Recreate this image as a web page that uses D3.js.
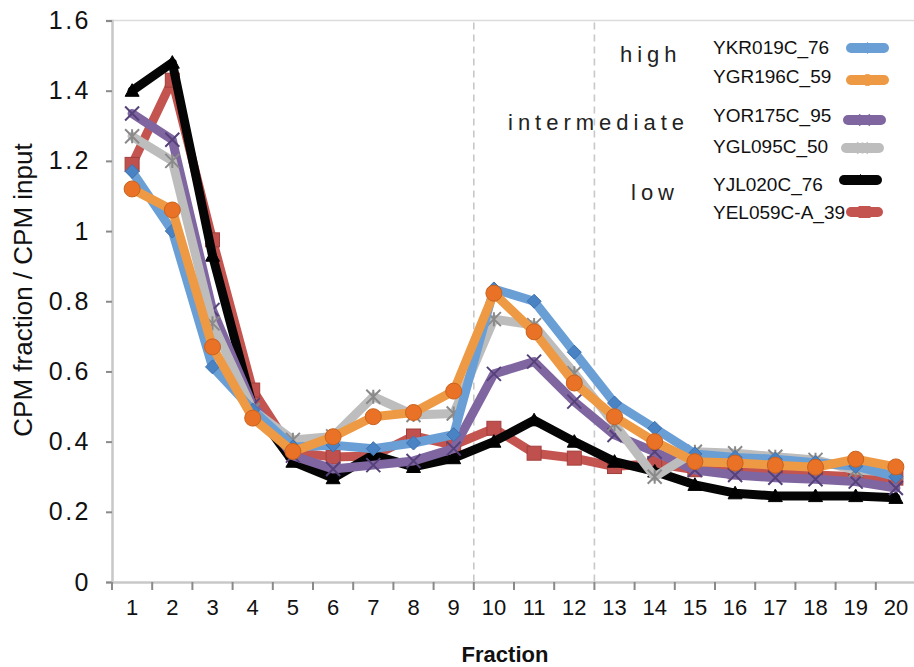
<!DOCTYPE html>
<html>
<head>
<meta charset="utf-8">
<script src="https://cdn.jsdelivr.net/npm/d3@7"></script>
<style>
  html, body { margin: 0; padding: 0; background: #fff; }
  svg { display: block; font-family: "Liberation Sans", Arial, Helvetica, sans-serif; }
</style>
</head>
<body>
<svg id="chart" width="914" height="667"></svg>
<script>
// ---------- data ----------
const fractions = [1,2,3,4,5,6,7,8,9,10,11,12,13,14,15,16,17,18,19,20];
const yTicks = [0, 0.2, 0.4, 0.6, 0.8, 1, 1.2, 1.4, 1.6];

const seriesNames = ["YKR019C_76", "YGR196C_59", "YOR175C_95", "YGL095C_50", "YJL020C_76", "YEL059C-A_39"];
const ykr019c = [1.17, 1.00, 0.613, 0.49, 0.385, 0.39, 0.38, 0.396, 0.42, 0.835, 0.80, 0.655, 0.51, 0.438, 0.365, 0.355, 0.35, 0.34, 0.33, 0.30];
const ygr196c = [1.12, 1.06, 0.67, 0.467, 0.372, 0.414, 0.471, 0.483, 0.544, 0.823, 0.713, 0.567, 0.471, 0.40, 0.343, 0.339, 0.333, 0.327, 0.35, 0.328];
const yor175c = [1.335, 1.26, 0.775, 0.504, 0.36, 0.322, 0.333, 0.345, 0.38, 0.593, 0.628, 0.514, 0.419, 0.371, 0.319, 0.305, 0.297, 0.293, 0.286, 0.268];
const ygl095c = [1.27, 1.20, 0.737, 0.49, 0.405, 0.415, 0.528, 0.476, 0.48, 0.749, 0.732, 0.595, 0.45, 0.30, 0.371, 0.367, 0.357, 0.348, 0.319, 0.313];
const yjl020c = [1.40, 1.48, 0.93, 0.50, 0.343, 0.296, 0.362, 0.328, 0.353, 0.40, 0.461, 0.40, 0.343, 0.315, 0.277, 0.253, 0.245, 0.245, 0.245, 0.24];
const yel059c = [1.19, 1.43, 0.975, 0.547, 0.37, 0.356, 0.359, 0.416, 0.39, 0.438, 0.367, 0.353, 0.329, 0.338, 0.32, 0.314, 0.31, 0.305, 0.30, 0.296];

const groupLabels = ["high", "intermediate", "low"];
const dividerAfter = [9, 12];   // dashed separators between these fractions and the next

// ---------- styles ----------
const styles = {
  "YKR019C_76":   { line: "#6A9FD6", fill: "#4A83C4", stroke: "#3E71AE", shape: "diamond" },
  "YGR196C_59":   { line: "#EE9944", fill: "#EA7226", stroke: "#C8621E", shape: "circle" },
  "YOR175C_95":   { line: "#8066A1", fill: "none",    stroke: "#56427A", shape: "x" },
  "YGL095C_50":   { line: "#BDBDBD", fill: "none",    stroke: "#8A8A8A", shape: "star" },
  "YJL020C_76":   { line: "#050505", fill: "#000000", stroke: "#000000", shape: "triangle" },
  "YEL059C-A_39": { line: "#C4544F", fill: "#C0504D", stroke: "#A0403D", shape: "square" }
};
const values = {
  "YKR019C_76": ykr019c, "YGR196C_59": ygr196c, "YOR175C_95": yor175c,
  "YGL095C_50": ygl095c, "YJL020C_76": yjl020c, "YEL059C-A_39": yel059c
};
// draw order (bottom -> top)
const drawOrder = ["YEL059C-A_39", "YJL020C_76", "YOR175C_95", "YGL095C_50", "YKR019C_76", "YGR196C_59"];

// ---------- layout ----------
const svg = d3.select("#chart");
const plotL = 112, plotR = 916, plotT = 20.5, plotB = 582;

const x = d3.scaleBand().domain(fractions).range([plotL, plotR]).paddingInner(0).paddingOuter(0);
const y = d3.scaleLinear().domain([0, 1.6]).range([plotB, plotT]);
const cx = d => x(d) + x.bandwidth() / 2;

// top border
svg.append("line").attr("x1", plotL).attr("x2", 914).attr("y1", plotT).attr("y2", plotT)
  .attr("stroke", "#dcdcdc").attr("stroke-width", 1.5);

// y axis
const yAxis = svg.append("g").attr("transform", `translate(${plotL},0)`)
  .call(d3.axisLeft(y).tickValues(yTicks).tickSize(6).tickPadding(15)
        .tickFormat(d => d3.format("")(+d.toFixed(1))));
yAxis.select(".domain").attr("stroke", "#c8c8c8").attr("stroke-width", 2.5);
yAxis.selectAll(".tick line").attr("stroke", "#8a8a8a").attr("stroke-width", 2);
yAxis.selectAll(".tick text").attr("font-size", 25).attr("fill", "#111")
  .attr("letter-spacing", 2.5).attr("font-family", "Liberation Sans, Arial, sans-serif");

// x axis
const xAxis = svg.append("g").attr("transform", `translate(0,${plotB})`)
  .call(d3.axisBottom(x).tickSize(0).tickPadding(17));
xAxis.select(".domain").attr("stroke", "#c8c8c8").attr("stroke-width", 2.5);
xAxis.selectAll(".tick text").attr("font-size", 22).attr("fill", "#111")
  .attr("font-family", "Liberation Sans, Arial, sans-serif");
// boundary tick marks
const boundaries = fractions.map(f => x(f));
xAxis.selectAll(".btick").data(boundaries).enter().append("line")
  .attr("x1", d => d).attr("x2", d => d).attr("y1", 0).attr("y2", 8)
  .attr("stroke", "#8a8a8a").attr("stroke-width", 2);

// axis titles
svg.append("text").attr("x", 505).attr("y", 662).attr("text-anchor", "middle")
  .attr("font-size", 22).attr("font-weight", "bold").attr("fill", "#111").text("Fraction");
svg.append("text").attr("transform", "translate(32,290) rotate(-90)").attr("text-anchor", "middle")
  .attr("font-size", 26).attr("fill", "#111").text("CPM fraction / CPM input");

// dashed separators
svg.selectAll(".sep").data(dividerAfter).enter().append("line")
  .attr("x1", d => x(d) + x.bandwidth()).attr("x2", d => x(d) + x.bandwidth())
  .attr("y1", plotT + 2).attr("y2", plotB)
  .attr("stroke", "#c8c8c8").attr("stroke-width", 1.6).attr("stroke-dasharray", "7,5");

// marker drawing
function drawMarker(g, shape, st, size) {
  const s = size / 2;
  if (shape === "circle") {
    g.append("circle").attr("r", s).attr("fill", st.fill).attr("stroke", st.stroke).attr("stroke-width", 1);
  } else if (shape === "square") {
    g.append("rect").attr("x", -s).attr("y", -s).attr("width", size).attr("height", size)
      .attr("fill", st.fill).attr("stroke", st.stroke).attr("stroke-width", 1);
  } else if (shape === "diamond") {
    g.append("path").attr("d", `M0,${-s}L${s},0L0,${s}L${-s},0Z`)
      .attr("fill", st.fill).attr("stroke", st.stroke).attr("stroke-width", 1);
  } else if (shape === "triangle") {
    g.append("path").attr("d", `M0,${-s}L${s},${s * 0.8}L${-s},${s * 0.8}Z`)
      .attr("fill", st.fill).attr("stroke", st.stroke).attr("stroke-width", 1);
  } else if (shape === "x") {
    g.append("path").attr("d", `M${-s},${-s}L${s},${s}M${-s},${s}L${s},${-s}`)
      .attr("stroke", st.stroke).attr("stroke-width", 2).attr("fill", "none");
  } else if (shape === "star") {
    g.append("path").attr("d", `M${-s},${-s}L${s},${s}M${-s},${s}L${s},${-s}M0,${-s}L0,${s}`)
      .attr("stroke", st.stroke).attr("stroke-width", 2).attr("fill", "none");
  }
}

// series
const lineGen = d3.line().x((d, i) => cx(fractions[i])).y(d => y(d));
drawOrder.forEach(name => {
  const st = styles[name];
  const vals = values[name];
  const g = svg.append("g");
  g.append("path").datum(vals).attr("d", lineGen)
    .attr("fill", "none").attr("stroke", st.line).attr("stroke-width", 9)
    .attr("stroke-linejoin", "round").attr("stroke-linecap", "round");
  vals.forEach((v, i) => {
    const m = g.append("g").attr("transform", `translate(${cx(fractions[i])},${y(v)})`);
    drawMarker(m, st.shape, st, st.shape === "circle" ? 16 : 14);
  });
});

// legend
const legendBaselines = [54, 83, 122, 153, 191, 219];
const legendSwatchY = [48, 80, 120, 148, 180, 212];
const legendSwatchX = [[851, 884], [851, 884], [848, 881], [846, 879], [844, 877], [851, 878]];
seriesNames.forEach((name, i) => {
  const st = styles[name];
  svg.append("text").attr("x", 713).attr("y", legendBaselines[i])
    .attr("font-size", 19).attr("fill", "#111").text(name);
  svg.append("line").attr("x1", legendSwatchX[i][0]).attr("x2", legendSwatchX[i][1])
    .attr("y1", legendSwatchY[i]).attr("y2", legendSwatchY[i])
    .attr("stroke", st.line).attr("stroke-width", 10).attr("stroke-linecap", "round");
  const m = svg.append("g").attr("transform",
    `translate(${(legendSwatchX[i][0] + legendSwatchX[i][1]) / 2},${legendSwatchY[i]})`);
  drawMarker(m, st.shape, { fill: st.line, stroke: st.line, line: st.line }, 11);
});

// group labels
const groupPos = [[620, 62], [508, 130], [631, 200]];
groupLabels.forEach((t, i) => {
  svg.append("text").attr("x", groupPos[i][0]).attr("y", groupPos[i][1])
    .attr("font-size", 22).attr("letter-spacing", 5).attr("fill", "#222").text(t);
});
</script>
</body>
</html>
